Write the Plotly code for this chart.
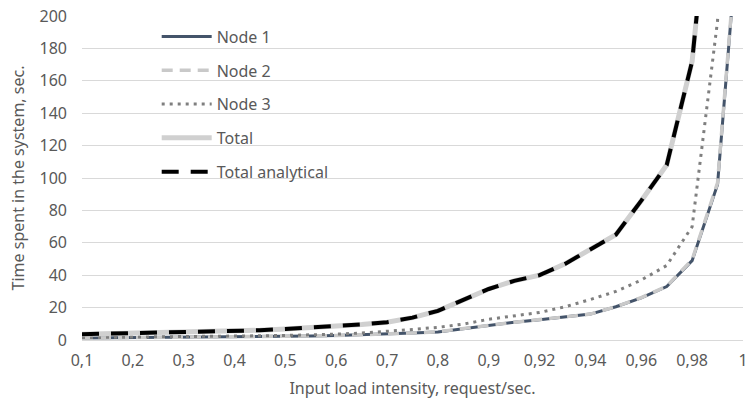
import plotly.graph_objects as go

categories = ["0,1", "0,15", "0,2", "0,25", "0,3", "0,35", "0,4", "0,45", "0,5", "0,55",
              "0,6", "0,65", "0,7", "0,75", "0,8", "0,85", "0,9", "0,91", "0,92", "0,93",
              "0,94", "0,95", "0,96", "0,97", "0,98", "0,99", "1"]
tick_labels = ["0,1", "0,2", "0,3", "0,4", "0,5", "0,6", "0,7", "0,8", "0,9",
               "0,92", "0,94", "0,96", "0,98", "1"]

node1 = [1.2, 1.3, 1.4, 1.5, 1.6, 1.7, 1.9, 2.0, 2.2, 2.5, 2.8, 3.2, 3.7, 4.3, 5.0, 7.0,
         9.3, 11.0, 12.5, 14.2, 16.0, 20.5, 26.0, 33.0, 49.0, 96.0, 290.0]
node2 = [1.2, 1.3, 1.4, 1.5, 1.6, 1.7, 1.9, 2.0, 2.2, 2.5, 2.8, 3.2, 3.7, 4.3, 5.1, 7.0,
         9.4, 11.0, 12.6, 14.3, 16.0, 20.6, 26.2, 33.2, 49.5, 97.0, 292.0]
node3 = [1.5, 1.6, 1.7, 1.9, 2.0, 2.2, 2.4, 2.6, 2.8, 3.1, 3.6, 4.3, 5.2, 6.5, 7.8, 9.8,
         12.8, 14.8, 17.0, 20.5, 25.0, 30.0, 37.0, 46.0, 70.0, 197.0, 700.0]
total = [3.6, 3.9, 4.1, 4.4, 4.7, 5.0, 5.5, 6.0, 6.8, 7.6, 8.5, 9.6, 11.0, 13.8, 18.0, 24.5,
         31.5, 36.5, 40.0, 47.0, 56.0, 65.0, 86.0, 108.0, 172.0, 330.0, 1200.0]
total_analytical = [3.6, 3.9, 4.1, 4.4, 4.7, 5.0, 5.5, 6.0, 6.8, 7.6, 8.5, 9.6, 11.0, 13.8, 18.0, 24.5,
                    31.5, 36.5, 40.0, 47.0, 56.0, 65.0, 86.0, 108.0, 172.0, 330.0, 1200.0]

FONT = "Noto Sans, Open Sans, sans-serif"
TXT = "#595959"
FS = 16

fig = go.Figure()
fig.add_trace(go.Scatter(x=categories, y=node1, name="Node 1", mode="lines",
                         line=dict(color="#44546a", width=3), legendgroup="a"))
fig.add_trace(go.Scatter(x=categories, y=node2, name="Node 2", mode="lines",
                         line=dict(color="#c9c9c9", width=3.5, dash="11px,7px"), legendgroup="b"))
fig.add_trace(go.Scatter(x=categories, y=node3, name="Node 3", mode="lines",
                         line=dict(color="#7f7f7f", width=3, dash="3px,5px"), legendgroup="c"))
fig.add_trace(go.Scatter(x=categories, y=total, name="Total", mode="lines",
                         line=dict(color="#d0d0d0", width=5), legendgroup="d"))
fig.add_trace(go.Scatter(x=categories, y=total_analytical, name="Total analytical", mode="lines",
                         line=dict(color="#000000", width=4, dash="17px,12px"), legendgroup="e"))

fig.update_layout(
    width=750, height=407,
    margin=dict(l=82, r=7, t=16, b=67),
    paper_bgcolor="white", plot_bgcolor="white",
    font=dict(family=FONT, size=FS, color=TXT),
    legend=dict(x=0.113, y=0.989, xanchor="left", yanchor="top",
                bgcolor="rgba(0,0,0,0)", font=dict(size=FS, color=TXT),
                traceorder="grouped", tracegroupgap=10, itemwidth=50),
    xaxis=dict(type="category", categoryorder="array", categoryarray=categories,
               range=[0, len(categories) - 1 + 0.001], automargin=False,
               tickmode="array", tickvals=categories[0:17:2] + categories[18::2], ticktext=tick_labels,
               showgrid=False, showline=True, linecolor="#d9d9d9", linewidth=1,
               ticks="", tickfont=dict(size=FS, color=TXT), ticklabelstandoff=6,
               ticklabeloverflow="allow",
               title=dict(text="Input load intensity, request/sec.", font=dict(size=FS, color=TXT), standoff=12),
               zeroline=False),
    yaxis=dict(range=[0, 200], tickmode="array", tickvals=list(range(0, 201, 20)), automargin=False,
               showgrid=True, gridcolor="#d9d9d9", gridwidth=1, zeroline=False,
               showline=False, ticks="", tickfont=dict(size=FS, color=TXT), ticklabelstandoff=14,
               ticklabeloverflow="allow",
               title=dict(text="Time spent in the system, sec.", font=dict(size=FS, color=TXT), standoff=10)),
)

fig.write_html("out.html", config={"displayModeBar": False},
               post_script="document.body.style.margin='0px';document.body.style.overflow='hidden';")
